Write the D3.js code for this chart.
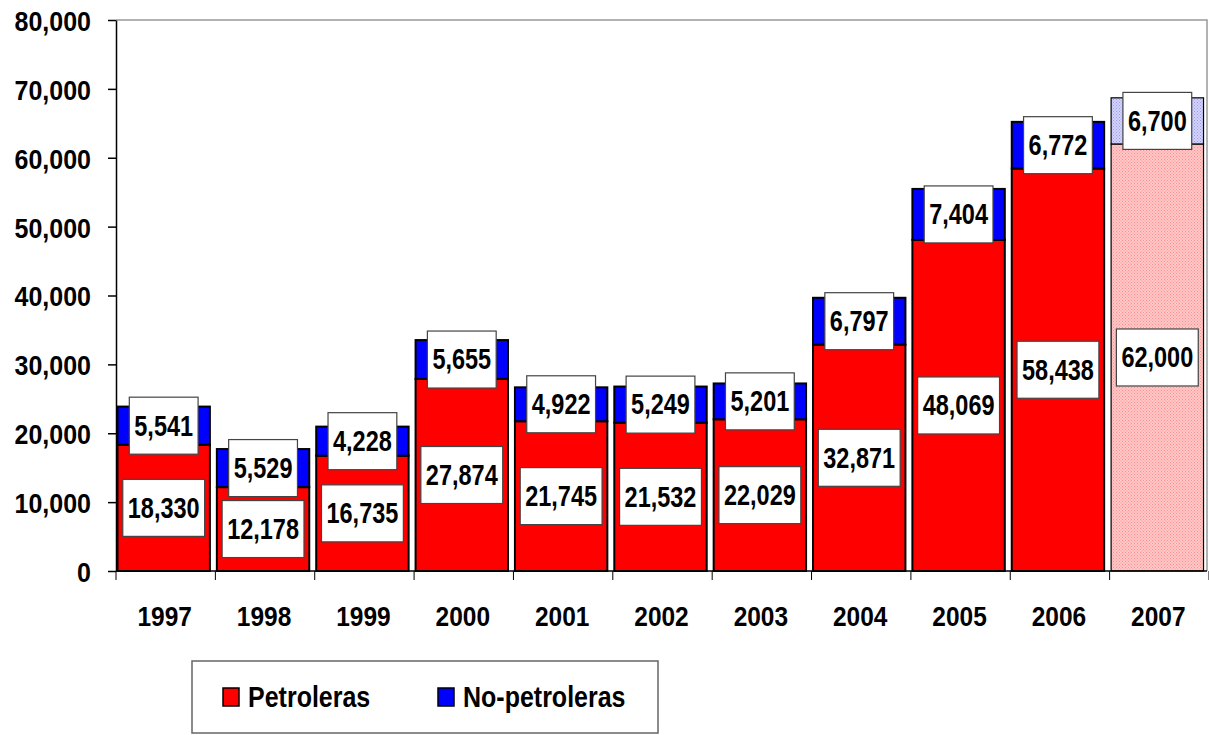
<!DOCTYPE html>
<html>
<head>
<meta charset="utf-8">
<script src="https://cdn.jsdelivr.net/npm/d3@7"></script>
<style>
  body { margin: 0; background: #fff; }
  text { font-family: "Liberation Sans", Arial, sans-serif; font-weight: bold; fill: #000; }
</style>
</head>
<body>
<svg id="chart" width="1209" height="735"></svg>
<script>
// values
const years = ["1997", "1998", "1999", "2000", "2001", "2002", "2003", "2004", "2005", "2006", "2007"];
const petroleras = [18330, 12178, 16735, 27874, 21745, 21532, 22029, 32871, 48069, 58438, 62000];
const noPetroleras = [5541, 5529, 4228, 5655, 4922, 5249, 5201, 6797, 7404, 6772, 6700];
const estimated = ["2007"];
const yTicks = [0, 10000, 20000, 30000, 40000, 50000, 60000, 70000, 80000];
const seriesNames = ["Petroleras", "No-petroleras"];

const svg = d3.select("#chart");
const plotL = 116, plotR = 1207, plotT = 20, plotB = 571;

const x = d3.scaleBand().domain(years).range([plotL, plotR])
  .paddingInner(0.07).paddingOuter(0.025).align(0.3);
const y = d3.scaleLinear().domain([0, 80000]).range([plotB, plotT]);
const fmt = d3.format(",");

// patterns for the 2007 estimate
const defs = svg.append("defs");
function dotted(id, bg, dot) {
  const p = defs.append("pattern").attr("id", id)
    .attr("width", 3).attr("height", 3).attr("patternUnits", "userSpaceOnUse");
  p.append("rect").attr("width", 3).attr("height", 3).attr("fill", bg);
  p.append("rect").attr("x", 0).attr("y", 0).attr("width", 1).attr("height", 1).attr("fill", dot);
  p.append("rect").attr("x", 1.5).attr("y", 1.5).attr("width", 1).attr("height", 1).attr("fill", dot);
}
dotted("patRed", "#ffc8c8", "#ff8f8f");
dotted("patBlue", "#d4d4fb", "#9a9af2");

// plot frame (top + right)
svg.append("path")
  .attr("d", `M${plotL},${plotT}H${plotR}V${plotB}`)
  .attr("fill", "none").attr("stroke", "#999").attr("stroke-width", 1.5);

const rows = years.map((yr, i) => ({ year: yr, pet: petroleras[i], non: noPetroleras[i] }));

const bars = svg.append("g").selectAll("g").data(rows).enter().append("g");

bars.append("rect")
  .attr("x", d => x(d.year))
  .attr("width", x.bandwidth())
  .attr("y", d => y(d.pet))
  .attr("height", d => y(0) - y(d.pet))
  .attr("fill", d => estimated.includes(d.year) ? "url(#patRed)" : "#ff0000")
  .attr("stroke", "#000").attr("stroke-width", d => estimated.includes(d.year) ? 1.2 : 2);

bars.append("rect")
  .attr("x", d => x(d.year))
  .attr("width", x.bandwidth())
  .attr("y", d => y(d.pet + d.non))
  .attr("height", d => y(d.pet) - y(d.pet + d.non))
  .attr("fill", d => estimated.includes(d.year) ? "url(#patBlue)" : "#0000ff")
  .attr("stroke", "#000").attr("stroke-width", d => estimated.includes(d.year) ? 1.2 : 2);

// axes
const yAxis = svg.append("g").attr("transform", `translate(${plotL},0)`)
  .call(d3.axisLeft(y).tickValues(yTicks).tickSize(8).tickSizeOuter(0).tickFormat(fmt));
yAxis.selectAll("path, line").attr("stroke", "#000").attr("stroke-width", 1.5);
yAxis.selectAll("text").remove();
yAxis.selectAll(".tick").append("text")
  .attr("text-anchor", "end").attr("dominant-baseline", "central")
  .attr("transform", "translate(-25,1) scale(1,1.12)")
  .style("font-size", "25px")
  .text(d => fmt(d));

const xAxis = svg.append("g");
xAxis.append("line").attr("x1", plotL).attr("x2", plotR).attr("y1", plotB).attr("y2", plotB)
  .attr("stroke", "#000").attr("stroke-width", 1.5);
xAxis.selectAll("line.tick").data(d3.range(years.length + 1)).enter().append("line")
  .attr("class", "tick")
  .attr("x1", i => plotL + i * x.step())
  .attr("x2", i => plotL + i * x.step())
  .attr("y1", plotB).attr("y2", plotB + 9)
  .attr("stroke", "#000").attr("stroke-width", 1);
xAxis.selectAll("text").data(years).enter().append("text")
  .attr("transform", d => `translate(${x(d) + x.bandwidth() / 2 + 1},626) scale(1,1.12)`)
  .attr("text-anchor", "middle")
  .style("font-size", "24.5px")
  .text(d => d);

// value labels in boxes
function boxLabel(g, cx, cy, value) {
  const t = g.append("text")
    .attr("text-anchor", "middle").attr("dominant-baseline", "central")
    .attr("transform", `translate(${cx},${cy}) scale(1,1.22)`)
    .style("font-size", "23.5px")
    .text(fmt(value));
  const w = t.node().getComputedTextLength() + 10;
  g.insert("rect", "text")
    .attr("x", cx - w / 2).attr("y", cy - 28.5)
    .attr("width", w).attr("height", 57)
    .attr("fill", "#fff").attr("stroke", "#444").attr("stroke-width", 1.2);
}

const labels = svg.append("g");
rows.forEach(d => {
  const cx = x(d.year) + x.bandwidth() / 2;
  boxLabel(labels.append("g"), cx, y(d.pet / 2), d.pet);
});
rows.forEach(d => {
  const cx = x(d.year) + x.bandwidth() / 2;
  boxLabel(labels.append("g"), cx, y(d.pet + d.non / 2), d.non);
});

// legend
const legend = svg.append("g");
legend.append("rect").attr("x", 192).attr("y", 661).attr("width", 466).attr("height", 72)
  .attr("fill", "#fff").attr("stroke", "#666").attr("stroke-width", 1.5);
const legendX = [223, 438];
const legendColors = ["#ff0000", "#0000ff"];
seriesNames.forEach((name, i) => {
  legend.append("rect").attr("x", legendX[i]).attr("y", 688).attr("width", 16).attr("height", 18)
    .attr("fill", legendColors[i]).attr("stroke", "#000").attr("stroke-width", 1.5);
  legend.append("text")
    .attr("transform", `translate(${legendX[i] + 25},697) scale(1,1.15)`)
    .attr("dominant-baseline", "central")
    .style("font-size", "25px")
    .text(name);
});
</script>
</body>
</html>
